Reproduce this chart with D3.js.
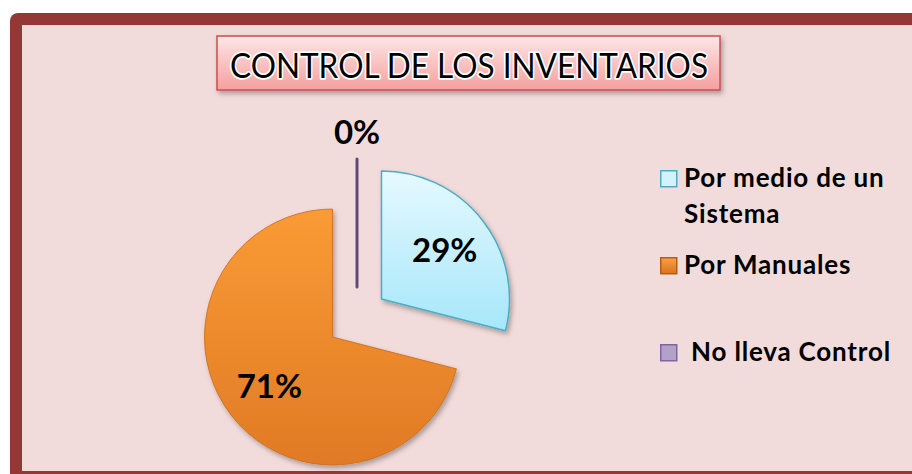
<!DOCTYPE html>
<html>
<head>
<meta charset="utf-8">
<script src="https://cdn.jsdelivr.net/npm/d3@7"></script>
<style>
    body { margin: 0; background: #fff; }
    svg { display: block; }
</style>
</head>
<body>
<div id="chart"></div>
<script>
    // data
    const categories = ['Por medio de un Sistema', 'Por Manuales', 'No lleva Control'];
    const legendLines = [['Por medio de un', 'Sistema'], ['Por Manuales'], [' No lleva Control']];
    const values = [29, 71, 0];
    const title = 'CONTROL DE LOS INVENTARIOS';

    const width = 912, height = 474;
    const cx = 357, cy = 318, radius = 128, explode = 31;

    const svg = d3.select('#chart')
        .append('svg')
        .attr('width', width)
        .attr('height', height);

    const defs = svg.append('defs');

    // gradients
    const gBlue = defs.append('linearGradient').attr('id', 'gBlue')
        .attr('x1', 0).attr('y1', 0).attr('x2', 0).attr('y2', 1);
    gBlue.append('stop').attr('offset', '0%').attr('stop-color', '#e6f9ff');
    gBlue.append('stop').attr('offset', '100%').attr('stop-color', '#a6e7fa');

    const gOrange = defs.append('linearGradient').attr('id', 'gOrange')
        .attr('x1', 0).attr('y1', 0).attr('x2', 0).attr('y2', 1);
    gOrange.append('stop').attr('offset', '0%').attr('stop-color', '#fa9b35');
    gOrange.append('stop').attr('offset', '100%').attr('stop-color', '#e07a25');

    const gTitle = defs.append('linearGradient').attr('id', 'gTitle')
        .attr('x1', 0).attr('y1', 0).attr('x2', 0).attr('y2', 1);
    gTitle.append('stop').attr('offset', '0%').attr('stop-color', '#fde6e6');
    gTitle.append('stop').attr('offset', '100%').attr('stop-color', '#f4a09f');

    const gLegOrange = defs.append('linearGradient').attr('id', 'gLegOrange')
        .attr('x1', 0).attr('y1', 0).attr('x2', 0).attr('y2', 1);
    gLegOrange.append('stop').attr('offset', '0%').attr('stop-color', '#f7a24a');
    gLegOrange.append('stop').attr('offset', '100%').attr('stop-color', '#d9731d');

    const shadow = defs.append('filter').attr('id', 'shadow')
        .attr('x', '-20%').attr('y', '-20%').attr('width', '140%').attr('height', '140%');
    shadow.append('feDropShadow')
        .attr('dx', 2).attr('dy', 3).attr('stdDeviation', 2.5)
        .attr('flood-color', '#000').attr('flood-opacity', 0.3);

    // frame
    svg.append('rect')
        .attr('x', 10).attr('y', 13)
        .attr('width', width + 20).attr('height', height)
        .attr('rx', 8)
        .attr('fill', '#953735');
    svg.append('rect')
        .attr('x', 22).attr('y', 25)
        .attr('width', width).attr('height', 446)
        .attr('fill', '#f2dcdb');

    // title box
    svg.append('rect')
        .attr('x', 217).attr('y', 36)
        .attr('width', 503).attr('height', 54)
        .attr('fill', 'url(#gTitle)')
        .attr('stroke', '#c8504d')
        .attr('stroke-width', 1.5)
        .attr('filter', 'url(#shadow)');
    svg.append('text')
        .attr('x', 469).attr('y', 78)
        .attr('text-anchor', 'middle')
        .attr('font-family', 'Lato, "Open Sans", sans-serif')
        .attr('font-size', 35)
        .attr('textLength', 478)
        .attr('lengthAdjust', 'spacingAndGlyphs')
        .attr('fill', '#000')
        .attr('stroke', '#fff')
        .attr('stroke-width', 3.5)
        .attr('paint-order', 'stroke')
        .attr('stroke-linejoin', 'round')
        .text(title);

    // pie
    const pie = d3.pie().sort(null).value(d => d)(values);
    const arc = d3.arc().innerRadius(0).outerRadius(radius);
    const labelArc = d3.arc().innerRadius(80).outerRadius(80);
    const fills = ['url(#gBlue)', 'url(#gOrange)', 'none'];
    const strokes = ['#4bacc6', '#c96a1c', '#604a7b'];

    const slices = svg.append('g')
        .attr('transform', `translate(${cx}, ${cy})`)
        .selectAll('g')
        .data(pie)
        .enter()
        .append('g')
        .attr('transform', d => {
            const a = (d.startAngle + d.endAngle) / 2;
            return `translate(${explode * Math.sin(a)}, ${-explode * Math.cos(a)})`;
        });

    slices.append('path')
        .attr('d', arc)
        .attr('fill', (d, i) => fills[i])
        .attr('stroke', (d, i) => strokes[i])
        .attr('stroke-width', (d, i) => i === 2 ? 3 : (i === 0 ? 1.5 : 0.8))
        .attr('stroke-linejoin', 'round')
        .attr('filter', (d, i) => i === 2 ? null : 'url(#shadow)');

    slices.append('text')
        .attr('transform', d => {
            if (d.value > 0) return `translate(${labelArc.centroid(d)})`;
            return `translate(0, ${-155})`;
        })
        .attr('text-anchor', 'middle')
        .attr('dy', '0.35em')
        .attr('font-family', 'Lato, "Open Sans", sans-serif')
        .attr('font-weight', 'bold')
        .attr('font-size', 33)
        .attr('fill', '#000')
        .text(d => `${d.value}%`);

    // legend
    const legendFill = ['#d2f3fc', 'url(#gLegOrange)', '#b3a2c7'];
    const legendStroke = ['#4bacc6', '#b35e17', '#8064a2'];
    const legendY = [170, 257, 344];

    const legend = svg.append('g')
        .selectAll('g')
        .data(categories)
        .enter()
        .append('g')
        .attr('transform', (d, i) => `translate(660, ${legendY[i]})`);

    legend.append('rect')
        .attr('x', 0.75).attr('y', 0.75)
        .attr('width', 16).attr('height', 16)
        .attr('fill', (d, i) => legendFill[i])
        .attr('stroke', (d, i) => legendStroke[i])
        .attr('stroke-width', 1.5);

    legend.append('text')
        .attr('font-family', 'Lato, "Open Sans", sans-serif')
        .attr('font-weight', 'bold')
        .attr('font-size', 26)
        .attr('letter-spacing', 0.8)
        .attr('fill', '#000')
        .attr('xml:space', 'preserve')
        .style('white-space', 'pre')
        .selectAll('tspan')
        .data((d, i) => legendLines[i])
        .enter()
        .append('tspan')
        .attr('x', 24)
        .attr('y', (d, j) => 17 + j * 36)
        .text(d => d);
</script>
</body>
</html>
